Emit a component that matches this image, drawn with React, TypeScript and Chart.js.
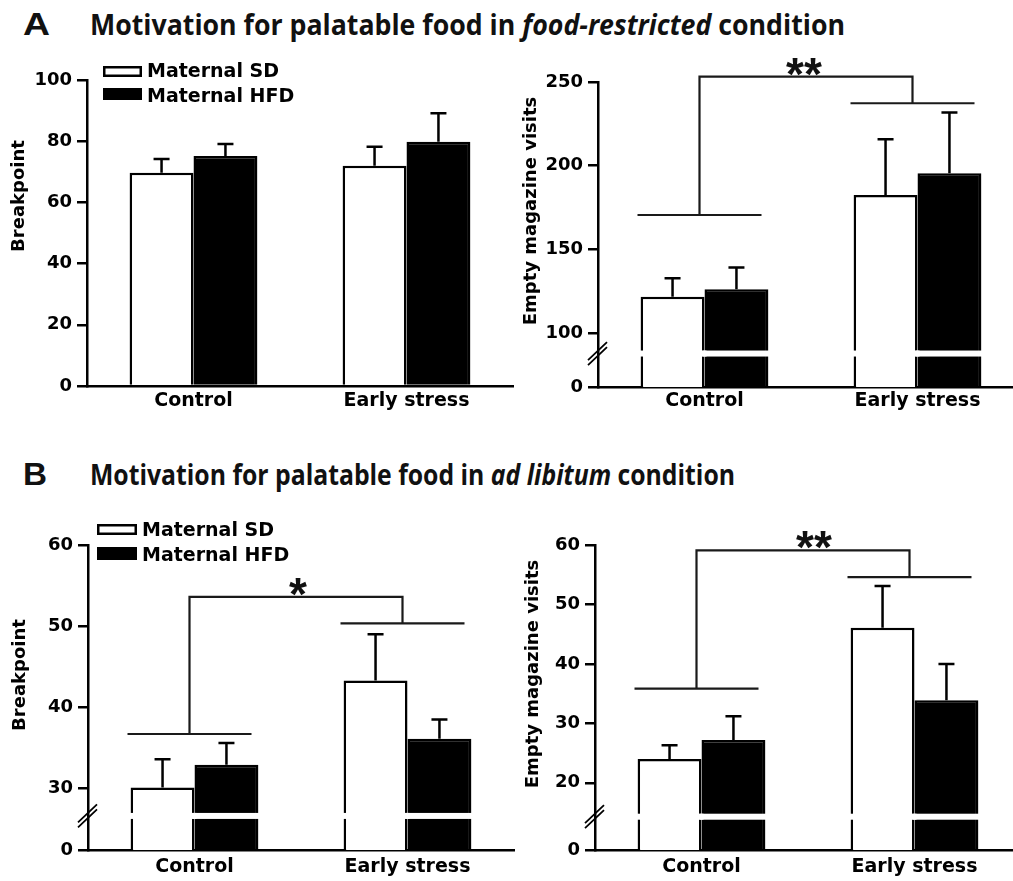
import React, { useEffect, useLayoutEffect, useRef } from 'react';
import { Chart, registerables } from 'chart.js';

Chart.register(...registerables);

// ---------- data ----------
const categories = ['Control', 'Early stress'];
const seriesNames = ['Maternal SD', 'Maternal HFD'];

// A (food-restricted) – Breakpoint
const aBreakSD = [69.7, 72.0];
const aBreakHFD = [75.2, 79.8];
const aBreakSDSem = [4.5, 6.2];
const aBreakHFDSem = [3.9, 9.3];
const aBreakTicks = [20, 40, 60, 80, 100];

// A (food-restricted) – Empty magazine visits
const aVisitsSD = [121.7, 182.5];
const aVisitsHFD = [126.1, 195.4];
const aVisitsSDSem = [11.0, 33.3];
const aVisitsHFDSem = [13.1, 36.3];
const aVisitsTicks = [100, 150, 200, 250];
const aVisitsSig = [170.5, 237.3, 253.2]; // control line, early-stress line, bracket top

// B (ad libitum) – Breakpoint
const bBreakSD = [30.1, 43.3];
const bBreakHFD = [32.9, 36.1];
const bBreakSDSem = [3.5, 5.7];
const bBreakHFDSem = [2.7, 2.4];
const bBreakTicks = [30, 40, 50, 60];
const bBreakSig = [36.7, 50.35, 53.6];

// B (ad libitum) – Empty magazine visits
const bVisitsSD = [24.0, 46.1];
const bVisitsHFD = [27.2, 33.9];
const bVisitsSDSem = [2.3, 7.0];
const bVisitsHFDSem = [4.0, 6.1];
const bVisitsTicks = [20, 30, 40, 50, 60];
const bVisitsSig = [35.85, 54.6, 59.1];

// ---------- layout ----------
const CW = 1040;
const CH = 881;
const TICK_FONT = '"DejaVu Sans"';
const LW = 2.5;

type Area = { left: number; top: number; right: number; bottom: number };
type PanelCfg = {
  sd: number[];
  hfd: number[];
  sdSem: number[];
  hfdSem: number[];
  ticks: number[];
  floor: number;
  max: number;
  breakAt?: number;
  sig?: number[];
  star?: string;
  starDx?: number;
  area: Area;
  xH: number;
  xPad: number;
  yTitle: string;
  yTitleX: number;
  yTitleY: number;
  legend?: { x: number; w: number; y1: number; h1: number; y2: number; h2: number; textX: number; b1: number; b2: number };
};

const panels: PanelCfg[] = [
  {
    sd: aBreakSD, hfd: aBreakHFD, sdSem: aBreakSDSem, hfdSem: aBreakHFDSem,
    ticks: aBreakTicks, floor: 0, max: 100,
    area: { left: 87, top: 80, right: 513, bottom: 386 }, xH: 34, xPad: 4,
    yTitle: 'Breakpoint', yTitleX: 24, yTitleY: 196,
    legend: { x: 103, w: 39, y1: 66, h1: 11, y2: 88, h2: 12, textX: 147, b1: 77, b2: 101.5 },
  },
  {
    sd: aVisitsSD, hfd: aVisitsHFD, sdSem: aVisitsSDSem, hfdSem: aVisitsHFDSem,
    ticks: aVisitsTicks, floor: 67.7, max: 250, breakAt: 87.7,
    sig: aVisitsSig, star: '**', starDx: -2,
    area: { left: 598, top: 82, right: 1024, bottom: 387 }, xH: 34, xPad: 3,
    yTitle: 'Empty magazine visits', yTitleX: 536, yTitleY: 211,
  },
  {
    sd: bBreakSD, hfd: bBreakHFD, sdSem: bBreakSDSem, hfdSem: bBreakHFDSem,
    ticks: bBreakTicks, floor: 22.4, max: 60, breakAt: 26.6,
    sig: bBreakSig, star: '*', starDx: 2,
    area: { left: 88, top: 545, right: 514, bottom: 850 }, xH: 31, xPad: 6,
    yTitle: 'Breakpoint', yTitleX: 25, yTitleY: 675,
    legend: { x: 97, w: 40, y1: 524, h1: 11, y2: 547, h2: 13, textX: 142, b1: 536, b2: 561 },
  },
  {
    sd: bVisitsSD, hfd: bVisitsHFD, sdSem: bVisitsSDSem, hfdSem: bVisitsHFDSem,
    ticks: bVisitsTicks, floor: 8.7, max: 60, breakAt: 14.3,
    sig: bVisitsSig, star: '**', starDx: 11,
    area: { left: 595, top: 545, right: 1021, bottom: 850 }, xH: 31, xPad: 6,
    yTitle: 'Empty magazine visits', yTitleX: 538, yTitleY: 674,
  },
];

function makeDecor(cfg: PanelCfg) {
  return {
    id: 'decor',
    afterDraw(chart: any) {
      const ctx = chart.ctx as CanvasRenderingContext2D;
      const xs = chart.scales.x;
      const ys = chart.scales.y;
      ctx.save();

      // break stripes through bars
      if (cfg.breakAt !== undefined) {
        const by = ys.getPixelForValue(cfg.breakAt);
        ctx.fillStyle = '#fff';
        [0, 1].forEach((di) => {
          const meta = chart.getDatasetMeta(di);
          meta.data.forEach((el: any) => {
            const w = el.width;
            ctx.fillRect(el.x - w / 2 - 2, by - 3, w + 4, 6);
          });
        });
      }

      // error bars
      ctx.strokeStyle = '#000';
      ctx.lineWidth = LW;
      const sems = [cfg.sdSem, cfg.hfdSem];
      const vals = [cfg.sd, cfg.hfd];
      [0, 1].forEach((di) => {
        const meta = chart.getDatasetMeta(di);
        meta.data.forEach((el: any, j: number) => {
          const yTop = ys.getPixelForValue(vals[di][j] + sems[di][j]);
          ctx.beginPath();
          ctx.moveTo(el.x, el.y);
          ctx.lineTo(el.x, yTop);
          ctx.moveTo(el.x - 8, yTop);
          ctx.lineTo(el.x + 8, yTop);
          ctx.stroke();
        });
      });

      // axis break marks
      if (cfg.breakAt !== undefined) {
        const by = ys.getPixelForValue(cfg.breakAt);
        const ax = cfg.area.left;
        ctx.lineWidth = 1.8;
        ctx.beginPath();
        ctx.moveTo(ax - 10, by + 6.5);
        ctx.lineTo(ax + 9, by - 11.5);
        ctx.moveTo(ax - 10, by + 11.5);
        ctx.lineTo(ax + 9, by - 6.5);
        ctx.stroke();
      }

      // significance bracket
      if (cfg.sig) {
        const [cLvl, eLvl, topLvl] = cfg.sig;
        const c0 = xs.getPixelForValue(0) - 5;
        const c1 = xs.getPixelForValue(1) - 5;
        const yc = ys.getPixelForValue(cLvl);
        const ye = ys.getPixelForValue(eLvl);
        const yt = ys.getPixelForValue(topLvl);
        ctx.strokeStyle = '#1a1a1a';
        ctx.lineWidth = 2.2;
        ctx.beginPath();
        ctx.moveTo(c0 - 62, yc);
        ctx.lineTo(c0 + 62, yc);
        ctx.moveTo(c1 - 62, ye);
        ctx.lineTo(c1 + 62, ye);
        ctx.moveTo(c0, yc);
        ctx.lineTo(c0, yt);
        ctx.lineTo(c1, yt);
        ctx.lineTo(c1, ye);
        ctx.stroke();
        ctx.fillStyle = '#111';
        ctx.font = 'bold 46px "Liberation Sans"';
        ctx.textAlign = 'center';
        ctx.textBaseline = 'alphabetic';
        ctx.fillText(cfg.star || '', (c0 + c1) / 2 + (cfg.starDx || 0), yt + 13);
      }

      // legend
      if (cfg.legend) {
        const L = cfg.legend;
        ctx.fillStyle = '#fff';
        ctx.fillRect(L.x, L.y1, L.w, L.h1);
        ctx.strokeStyle = '#000';
        ctx.lineWidth = 2.5;
        ctx.strokeRect(L.x + 1.25, L.y1 + 1.25, L.w - 2.5, L.h1 - 2.5);
        ctx.fillStyle = '#000';
        ctx.fillRect(L.x, L.y2, L.w, L.h2);
        ctx.font = `bold 19px ${TICK_FONT}`;
        ctx.textAlign = 'left';
        ctx.textBaseline = 'alphabetic';
        ctx.fillText(seriesNames[0], L.textX, L.b1);
        ctx.fillText(seriesNames[1], L.textX, L.b2);
      }

      // y-axis title
      ctx.save();
      ctx.translate(cfg.yTitleX, cfg.yTitleY);
      ctx.rotate(-Math.PI / 2);
      ctx.fillStyle = '#000';
      ctx.font = `bold 18px ${TICK_FONT}`;
      ctx.textAlign = 'center';
      ctx.textBaseline = 'alphabetic';
      ctx.fillText(cfg.yTitle, 0, 0);
      ctx.restore();

      ctx.restore();
    },
  };
}

function Panel({ cfg }: { cfg: PanelCfg }) {
  const ref = useRef<HTMLCanvasElement>(null);
  useEffect(() => {
    const canvas = ref.current;
    if (!canvas) return;
    const a = cfg.area;
    const chart = new Chart(canvas, {
      type: 'bar',
      data: {
        labels: categories,
        datasets: [
          { label: seriesNames[0], data: cfg.sd, backgroundColor: '#ffffff', borderColor: '#000', borderWidth: LW, borderSkipped: 'bottom' },
          { label: seriesNames[1], data: cfg.hfd, backgroundColor: '#000000', borderColor: '#000', borderWidth: LW, borderSkipped: 'bottom' },
        ],
      },
      options: {
        responsive: false,
        maintainAspectRatio: false,
        animation: false,
        devicePixelRatio: 1,
        events: [],
        layout: {
          padding: { left: 0, top: a.top, right: CW - a.right, bottom: CH - a.bottom - cfg.xH },
        },
        datasets: { bar: { categoryPercentage: 0.6, barPercentage: 1 } },
        plugins: { legend: { display: false }, tooltip: { enabled: false }, title: { display: false } },
        scales: {
          x: {
            type: 'category',
            offset: true,
            z: 1,
            grid: { display: false, drawTicks: false },
            border: { display: true, color: '#000', width: LW },
            ticks: { color: '#000', padding: cfg.xPad, font: { family: TICK_FONT, size: 19, weight: 'bold' } },
            afterFit: (s: any) => { s.height = cfg.xH; },
          },
          y: {
            type: 'linear',
            min: cfg.floor,
            max: cfg.max,
            z: 1,
            afterBuildTicks: (s: any) => {
              s.ticks = [cfg.floor, ...cfg.ticks].map((v) => ({ value: v }));
            },
            ticks: {
              color: '#000',
              padding: 5,
              autoSkip: false,
              font: { family: TICK_FONT, size: 18, weight: 'bold' },
              callback: (v: any) => (v === cfg.floor ? '0' : String(v)),
            },
            grid: { display: true, drawOnChartArea: false, drawTicks: true, tickLength: 10, color: '#000', lineWidth: LW },
            border: { display: true, color: '#000', width: LW },
            afterFit: (s: any) => { s.width = a.left; },
          },
        },
      } as any,
      plugins: [makeDecor(cfg)],
    });
    return () => chart.destroy();
  }, []);
  return <canvas ref={ref} width={CW} height={CH} style={{ position: 'absolute', left: 0, top: 0, width: CW, height: CH }} />;
}

function FitText({ left, top, width, size, family, children }: any) {
  const ref = useRef<HTMLDivElement>(null);
  useLayoutEffect(() => {
    const fit = () => {
      const el = ref.current;
      if (!el) return;
      el.style.transform = 'none';
      const w = el.getBoundingClientRect().width;
      if (w > 0) el.style.transform = `scaleX(${width / w})`;
    };
    fit();
    if ((document as any).fonts && (document as any).fonts.ready) (document as any).fonts.ready.then(fit);
  }, []);
  return (
    <div
      ref={ref}
      style={{
        position: 'absolute', left, top, whiteSpace: 'nowrap', fontFamily: family, fontWeight: 700,
        fontSize: size, lineHeight: `${size}px`, transformOrigin: '0 0', color: '#111',
      }}
    >
      {children}
    </div>
  );
}

export default function App() {
  return (
    <div style={{ position: 'absolute', left: 0, top: 0, width: 1013, height: 881, overflow: 'hidden', background: '#fff' }}>
      <FitText left={23} top={9} width={27} size={31} family='"Liberation Sans"'>A</FitText>
      <FitText left={90} top={10} width={755} size={28} family='"Open Sans"'>
        Motivation for palatable food in <i>food-restricted</i> condition
      </FitText>
      <FitText left={23} top={459} width={24} size={31} family='"Liberation Sans"'>B</FitText>
      <FitText left={90} top={460} width={645} size={28} family='"Open Sans"'>
        Motivation for palatable food in <i>ad libitum</i> condition
      </FitText>
      {panels.map((p, i) => (
        <Panel key={i} cfg={p} />
      ))}
    </div>
  );
}
